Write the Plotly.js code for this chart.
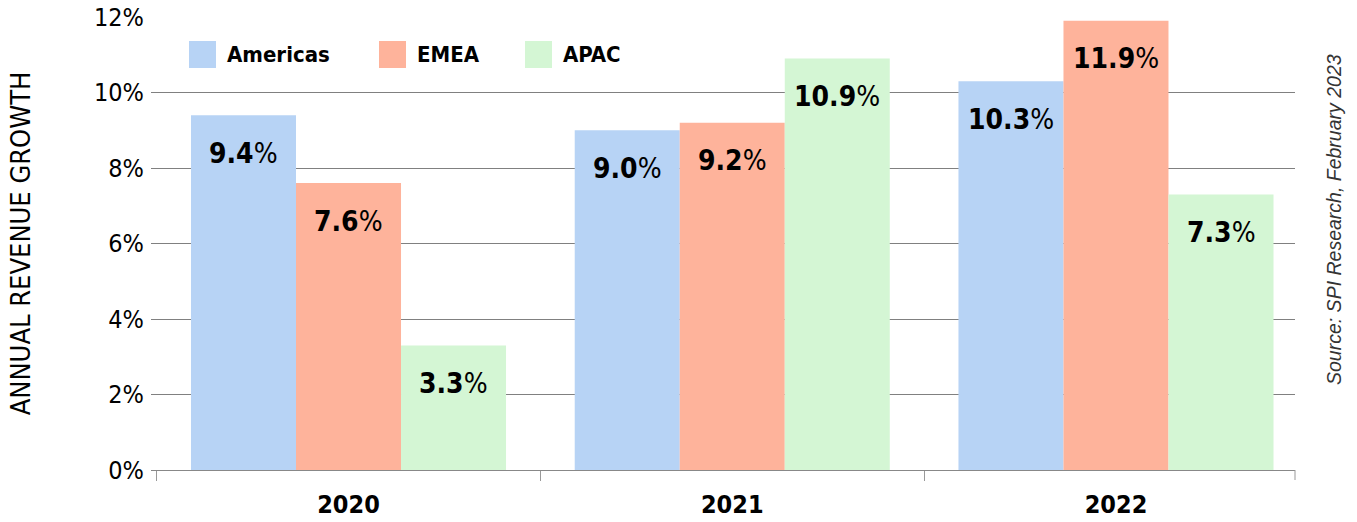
<!DOCTYPE html>
<html>
<head>
<meta charset="utf-8">
<script src="https://cdn.plot.ly/plotly-3.0.1.min.js"></script>
<style>html,body{margin:0;padding:0;background:#fff;}#chart{width:1357px;height:522px;}</style>
</head>
<body>
<div id="chart"></div>
<script>
const categories = ['2020', '2021', '2022'];
const seriesNames = ['Americas', 'EMEA', 'APAC'];
const americas = [9.4, 9.0, 10.3];
const emea = [7.6, 9.2, 11.9];
const apac = [3.3, 10.9, 7.3];
const yTicks = [0, 2, 4, 6, 8, 10, 12];
const yTitle = 'ANNUAL REVENUE GROWTH';
const sourceText = 'Source: SPI Research, February 2023';

const seriesValues = [americas, emea, apac];
const colors = ['#b7d3f5', '#feb39b', '#d4f6d4'];
const condensed = '"Liberation Sans Narrow", "DejaVu Sans Condensed", "Roboto", sans-serif';

const W = 1357, H = 522;
const margin = {l: 151, r: 62, t: 17, b: 52};
const plotW = W - margin.l - margin.r;
const plotH = H - margin.t - margin.b;
const xRange = [-0.5147, 2.4665];
const bargap = 0.179;
const unitPx = plotW / (xRange[1] - xRange[0]);
const barPx = unitPx * (1 - bargap) / seriesNames.length;

const traces = seriesNames.map((name, i) => ({
  type: 'bar',
  name: name,
  x: categories,
  y: seriesValues[i],
  marker: {color: colors[i], line: {width: 0}},
  hoverinfo: 'none',
  showlegend: false
}));

const annotations = [];
seriesValues.forEach((vals, i) => {
  vals.forEach((v, j) => {
    annotations.push({
      x: j, y: v, xref: 'x', yref: 'y',
      text: '<b>' + v.toFixed(1) + '</b>%',
      showarrow: false,
      xshift: (i - (seriesNames.length - 1) / 2) * barPx,
      yshift: -38,
      yanchor: 'middle',
      font: {family: condensed, size: 28, color: '#000'}
    });
  });
});

// custom legend
const px2x = p => (p - margin.l) / plotW;
const py2y = p => (H - margin.b - p) / plotH;
const legendSwatchX = [189, 379, 525];
const shapes = [];
seriesNames.forEach((name, i) => {
  shapes.push({type: 'rect', xref: 'paper', yref: 'paper',
    x0: px2x(legendSwatchX[i]), x1: px2x(legendSwatchX[i] + 27),
    y0: py2y(68), y1: py2y(41), fillcolor: colors[i], line: {width: 0}});
  annotations.push({xref: 'paper', yref: 'paper', x: px2x(legendSwatchX[i] + 36), y: py2y(55),
    xanchor: 'left', yanchor: 'middle', showarrow: false,
    text: '<b>' + name + '</b>', font: {family: condensed, size: 22, color: '#000'}});
});
// right end tick
shapes.push({type: 'line', xref: 'paper', yref: 'paper', x0: 1, x1: 1, y0: 0, y1: py2y(480),
  line: {color: '#999', width: 1}});
// source
annotations.push({xref: 'paper', yref: 'paper', x: px2x(1334), y: py2y(220), showarrow: false,
  textangle: -90, xanchor: 'center', yanchor: 'middle',
  text: '<i>' + sourceText + '</i>', font: {family: '"Liberation Sans", Arial, sans-serif', size: 19.5, color: '#333'}});

const layout = {
  width: W, height: H,
  margin: margin,
  paper_bgcolor: '#fff', plot_bgcolor: '#fff',
  barmode: 'group', bargap: bargap, bargroupgap: 0,
  showlegend: false,
  xaxis: {
    type: 'category', range: xRange, tickson: 'boundaries',
    ticks: 'outside', ticklen: 10, tickcolor: '#999', tickwidth: 1,
    showline: true, linecolor: '#888', linewidth: 1,
    showgrid: false, zeroline: false,
    ticklabelstandoff: 12,
    tickfont: {family: condensed, size: 25, color: '#000'},
    tickvals: categories, ticktext: categories.map(c => '<b>' + c + '</b>')
  },
  yaxis: {
    range: [0, 12], tickvals: yTicks, ticktext: yTicks.map(t => t + '%'),
    showgrid: true, gridcolor: '#808080', gridwidth: 1,
    zeroline: false, showline: false, ticks: '',
    ticklabelstandoff: 6,
    tickfont: {family: condensed, size: 25, color: '#000'},
    title: {text: yTitle, font: {family: condensed, size: 27, color: '#000'}, standoff: 55}
  },
  annotations: annotations,
  shapes: shapes
};

Plotly.newPlot('chart', traces, layout, {displayModeBar: false, staticPlot: true});
</script>
</body>
</html>
